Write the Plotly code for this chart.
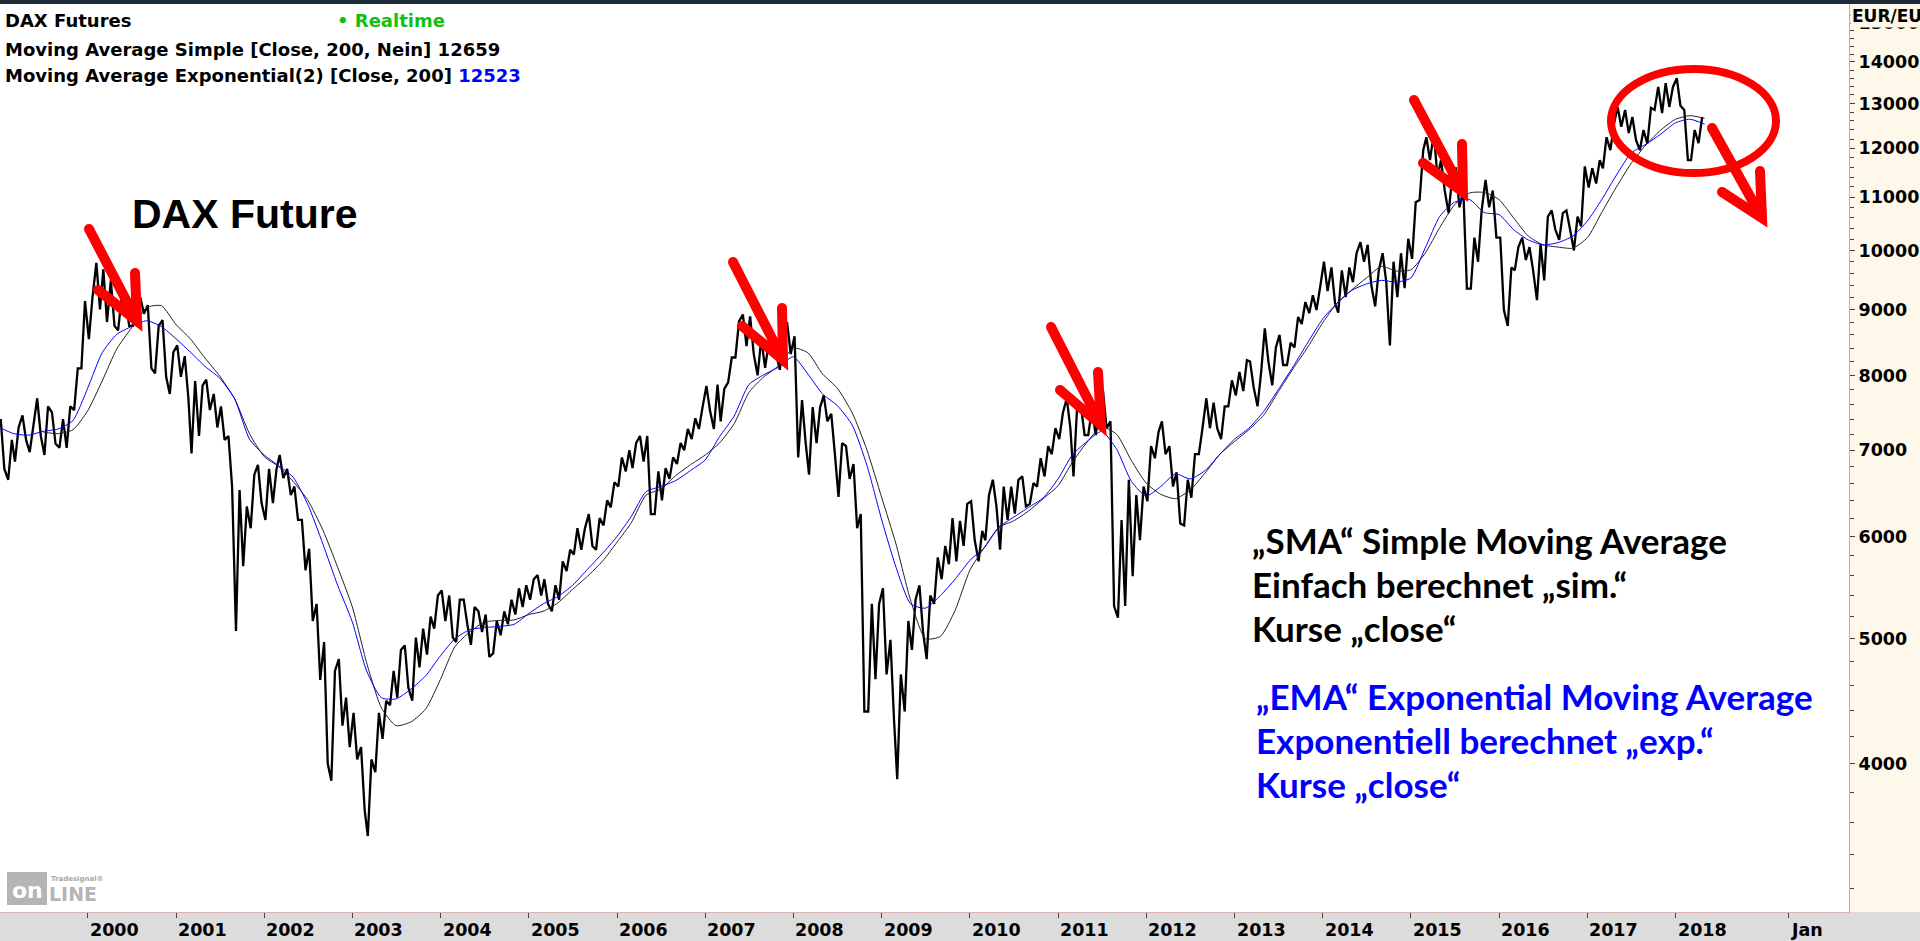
import math
import pandas as pd
import plotly.graph_objects as go

# ---------------- data ----------------
# monthly high / low of the DAX future, Jan 1999 .. Apr 2018
month_high = [
    7400, 7130, 7290, 7450, 7290, 7680, 7570, 7490, 7400, 7570, 8100, 9135,      # 1999
    9200, 9780, 9670, 9480, 9200, 9130, 9070, 9200, 9070, 8740, 8830, 8340,      # 2000
    8440, 8280, 7920, 7860, 7940, 7740, 7570, 7180, 6520, 6330, 6700, 6820,      # 2001
    6770, 6770, 6940, 6770, 6560, 6180, 5870, 5320, 4970, 4720, 4820, 4500,      # 2002
    4380, 4120, 4030, 4380, 4475, 4720, 4900, 4940, 5010, 5090, 5200, 5400,      # 2003
    5450, 5400, 5360, 5360, 5290, 5250, 5220, 5160, 5250, 5360, 5470, 5500,      # 2004
    5560, 5600, 5560, 5500, 5740, 5860, 6090, 6090, 6245, 6200, 6400, 6610,      # 2005
    6910, 7000, 7090, 7180, 7180, 6740, 6780, 6910, 7090, 7270, 7410, 7560,      # 2006
    7850, 7870, 7810, 8260, 8810, 8920, 8890, 8540, 8480, 8640, 8580, 8800,      # 2007
    8580, 7655, 7560, 7560, 7720, 7470, 7090, 7050, 6830, 6245, 5320, 5320,      # 2008
    5470, 4990, 4690, 5160, 5360, 5500, 5400, 5780, 5900, 6200, 6170, 6360,      # 2009
    6390, 6060, 6460, 6640, 6560, 6560, 6640, 6680, 6600, 6900, 7050, 7280,      # 2010
    7480, 7680, 7570, 7570, 7530, 7620, 7780, 7370, 6180, 6640, 6460, 6560,      # 2011
    7050, 7230, 7370, 7050, 6730, 6640, 6950, 7280, 7680, 7620, 7570, 7930,      # 2012
    8050, 8220, 8200, 8050, 8700, 8410, 8600, 8480, 8880, 9120, 9230, 9360,      # 2013
    9800, 9700, 9650, 9700, 9950, 10150, 10100, 9650, 9950, 9800, 9950, 10210,   # 2014
    10900, 11960, 12240, 12330, 11750, 11400, 11600, 11130, 10230, 10740, 11340, 11130,  # 2015
    10230, 9700, 10060, 10230, 10060, 10120, 10620, 10740, 10690, 10740, 10620, 11620,   # 2016
    11580, 11750, 12240, 12540, 12920, 12850, 12690, 12400, 12900, 13390, 13480, 13390,  # 2017
    13600, 12850, 12400, 12690,                                                          # 2018
]
month_low = [
    6770, 6640, 6860, 7130, 6975, 7180, 6940, 7080, 7030, 7030, 7520, 8100,
    8535, 9000, 8800, 8740, 8670, 8740, 8740, 8930, 8100, 8030, 7980, 7740,
    7980, 7680, 6960, 7180, 7520, 7290, 7130, 6560, 5070, 5690, 6090, 6370,
    6180, 6370, 6660, 6460, 6180, 5650, 5160, 4645, 4000, 3880, 4280, 4120,
    4030, 3680, 3515, 3940, 4180, 4440, 4500, 4580, 4475, 4750, 4860, 5090,
    5160, 5010, 4970, 5130, 4945, 5060, 4840, 4870, 5030, 5130, 5220, 5290,
    5360, 5400, 5320, 5250, 5360, 5640, 5810, 5860, 5900, 5860, 6120, 6320,
    6560, 6740, 6780, 6860, 6245, 6245, 6400, 6650, 6830, 7000, 7140, 7270,
    7510, 7270, 7370, 7900, 8260, 8430, 8310, 8000, 8110, 8310, 8080, 8310,
    6910, 7090, 6700, 7090, 7370, 6950, 6440, 6650, 6090, 4390, 4390, 4650,
    4690, 4320, 3890, 4390, 4900, 5060, 4820, 5320, 5560, 5710, 5740, 5900,
    5960, 5740, 5960, 6330, 5860, 6180, 6250, 6330, 6360, 6560, 6680, 6950,
    7140, 7280, 6680, 7190, 7190, 7190, 7280, 5300, 5190, 5300, 5590, 5960,
    6390, 6900, 6950, 6560, 6140, 6120, 6430, 6950, 7280, 7280, 7140, 7570,
    7720, 7780, 7830, 7570, 8200, 7860, 8150, 8150, 8410, 8770, 8940, 8990,
    9300, 9100, 8950, 9200, 9450, 9800, 9400, 9050, 9450, 8440, 9200, 9350,
    9850, 10940, 11750, 11400, 11130, 10690, 10800, 9340, 9340, 9800, 10800, 10230,
    8990, 8740, 9650, 9830, 9650, 9150, 9480, 10380, 10190, 10380, 10000, 10440,
    11190, 11270, 11580, 11960, 12470, 12330, 12180, 11960, 12100, 12850, 12780, 12920,
    12950, 11750, 11750, 12110,
]
# moving averages, read every two months from Jan 1999
ema_200 = [
    7290, 7210, 7190, 7240, 7270, 7380, 7820, 8330, 8610, 8730,
    8820, 8730, 8540, 8340, 8130, 7960, 7670, 7140, 6940, 6810,
    6670, 6350, 5920, 5500, 5150, 4720, 4500, 4490, 4570, 4680,
    4850, 5000, 5080, 5100, 5110, 5130, 5230, 5320, 5390, 5500,
    5660, 5820, 6000, 6220, 6500, 6560, 6630, 6750, 6880, 7170,
    7440, 7870, 8010, 8120, 8270, 8020, 7740, 7580, 7320, 6810,
    6180, 5680, 5320, 5280, 5400, 5560, 5750, 5880, 6100, 6210,
    6320, 6430, 6650, 6940, 7110, 7240, 7010, 6620, 6450, 6560,
    6710, 6650, 6750, 6950, 7140, 7280, 7500, 7800, 8130, 8490,
    8850, 9100, 9310, 9420, 9480, 9450, 9520, 10040, 10630, 10900,
    10950, 10700, 10660, 10380, 10190, 10100, 10140, 10260, 10540, 10950,
    11440, 11900, 12090, 12310, 12560, 12640, 12530,
]
sma_200 = [
    None, None, None, 7230, 7210, 7260, 7510, 7920, 8390, 8710,
    9030, 9060, 8760, 8540, 8250, 7990, 7670, 7210, 6920, 6800,
    6620, 6400, 6070, 5680, 5290, 4790, 4420, 4280, 4310, 4410,
    4650, 4930, 5060, 5150, 5165, 5170, 5220, 5250, 5330, 5460,
    5590, 5740, 5940, 6150, 6460, 6530, 6690, 6820, 6940, 7090,
    7340, 7760, 7980, 8140, 8400, 8330, 8020, 7820, 7480, 7000,
    6430, 5920, 5350, 5000, 5020, 5260, 5650, 5880, 6100, 6170,
    6280, 6420, 6570, 6850, 7100, 7300, 7200, 6870, 6600, 6470,
    6420, 6520, 6720, 6950, 7110, 7260, 7450, 7770, 8100, 8420,
    8790, 9100, 9320, 9520, 9720, 9640, 9660, 9950, 10420, 10850,
    11080, 11090, 10950, 10600, 10260, 10100, 10060, 10040, 10230, 10700,
    11200, 11680, 12080, 12400, 12640, 12720, 12660,
]
year_ticks = [f"{y}-01-01" for y in range(2000, 2019)] + ["2019-04-15"]
year_labels = [str(y) for y in range(2000, 2019)] + ["Jan"]
price_ticks = list(range(4000, 15001, 1000))
minor_ticks = [v for v in range(3200, 15400, 200) if v % 1000 != 0]

# ---------------- build traces ----------------
months = pd.date_range("1999-01-01", periods=len(month_high), freq="MS")
bar_x, bar_y = [], []
for i, m in enumerate(months):
    h, l = month_high[i], month_low[i]
    mid = (h + l) / 2
    nxt = (month_high[i + 1] + month_low[i + 1]) / 2 if i + 1 < len(months) else mid
    a, b = (l, h) if nxt >= mid else (h, l)
    bar_x += [m + pd.Timedelta(days=5), m + pd.Timedelta(days=20)]
    bar_y += [a, b]

ma_dates = pd.date_range("1999-01-01", periods=len(ema_200), freq="2MS")

fig = go.Figure()
fig.add_trace(go.Scatter(x=bar_x, y=bar_y, mode="lines", line=dict(color="black", width=2.3),
                         hoverinfo="skip", showlegend=False))
fig.add_trace(go.Scatter(x=ma_dates, y=sma_200, mode="lines",
                         line=dict(color="#222222", width=1, shape="spline", smoothing=0.6),
                         hoverinfo="skip", showlegend=False))
fig.add_trace(go.Scatter(x=ma_dates, y=ema_200, mode="lines",
                         line=dict(color="#0000ff", width=1, shape="spline", smoothing=0.6),
                         hoverinfo="skip", showlegend=False))

# ---------------- layout ----------------
W, H = 1920, 941
ML, MR, MT, MB = 0, 71, 4, 29
PW, PH = W - ML - MR, H - MT - MB
BOTTOM = MT + PH


def fx(p):
    return p / PW


def fy(p):
    return (BOTTOM - p) / PH


shapes = [
    dict(type="rect", xref="paper", yref="paper", x0=1, x1=W / PW, y0=-MB / PH, y1=1 + MT / PH,
         fillcolor="#fdf8ea", line=dict(width=0), layer="below"),
    dict(type="rect", xref="paper", yref="paper", x0=0, x1=W / PW, y0=-MB / PH, y1=0,
         fillcolor="#dcdcdc", line=dict(width=0), layer="below"),
    dict(type="rect", xref="paper", yref="paper", x0=0, x1=W / PW, y0=1, y1=1 + MT / PH,
         fillcolor="#1d2b3a", line=dict(width=0), layer="below"),
]

RED = "#ff0000"
arrows = [
    ((89, 229), (137, 321), (98, 290), (135, 273)),
    ((733, 262), (783, 360), (742, 326), (782, 308)),
    ((1051, 327), (1101, 425), (1060, 390), (1098, 372)),
    ((1414, 100), (1463, 192), (1423, 163), (1462, 144)),
    ((1712, 128), (1762, 218), (1722, 192), (1760, 171)),
]
AW = 10
for tail, tip, wl, wr in arrows:
    path = (f"M {fx(tail[0])},{fy(tail[1])} L {fx(tip[0])},{fy(tip[1])} "
            f"M {fx(wl[0])},{fy(wl[1])} L {fx(tip[0])},{fy(tip[1])} L {fx(wr[0])},{fy(wr[1])}")
    shapes.append(dict(type="path", xref="paper", yref="paper", path=path,
                       line=dict(color=RED, width=AW)))
    for cx, cy in (tail, wl, wr):
        r = AW / 2
        shapes.append(dict(type="circle", xref="paper", yref="paper",
                           x0=fx(cx - r), x1=fx(cx + r), y0=fy(cy + r), y1=fy(cy - r),
                           fillcolor=RED, line=dict(width=0)))
shapes.append(dict(type="circle", xref="paper", yref="paper",
                   x0=fx(1611), x1=fx(1776), y0=fy(173), y1=fy(69),
                   line=dict(color=RED, width=8)))
# logo box
shapes.append(dict(type="rect", xref="paper", yref="paper",
                   x0=fx(7), x1=fx(47), y0=fy(905), y1=fy(872),
                   fillcolor="#b5b5b5", line=dict(width=0)))

HDR = dict(family="DejaVu Sans", size=18, color="black", weight="bold")
annotations = [
    dict(text="DAX Futures", x=fx(3), y=fy(21), font=HDR),
    dict(text="\u2022 Realtime", x=fx(335), y=fy(21), font=dict(HDR, color="#12c012")),
    dict(text="Moving Average Simple [Close, 200, Nein] 12659", x=fx(3), y=fy(49), font=HDR),
    dict(text="Moving Average Exponential(2) [Close, 200] <span style='color:#0000ff'>12523</span>",
         x=fx(3), y=fy(76), font=HDR),
    dict(text="DAX Future", x=fx(130), y=fy(214),
         font=dict(family="Liberation Sans", size=41, color="black", weight="bold")),
    dict(text="EUR/EUR", x=fx(1850), y=fy(4), yanchor="top", bgcolor="#fdf8ea",
         font=dict(HDR, size=17)),
    dict(text="on", x=fx(27), y=fy(890), xanchor="center",
         font=dict(family="DejaVu Sans", size=22, color="white", weight="bold")),
    dict(text="LINE", x=fx(47), y=fy(894),
         font=dict(family="DejaVu Sans", size=19, color="#b5b5b5", weight="bold")),
    dict(text="Tradesignal\u00ae", x=fx(49), y=fy(879),
         font=dict(family="DejaVu Sans", size=7, color="#a8a8a8", weight="bold")),
]
for a in annotations:
    a.setdefault("xanchor", "left")
    a.setdefault("yanchor", "middle")
    a.update(xref="paper", yref="paper", showarrow=False)

TXT = dict(family="Lato", size=35, weight="bold")
text_lines = [
    ("\u201eSMA\u201c Simple Moving Average", 540, "black", 1250),
    ("Einfach berechnet \u201esim.\u201c", 584, "black", 1250),
    ("Kurse \u201eclose\u201c", 628, "black", 1250),
    ("\u201eEMA\u201c Exponential Moving Average", 696, "#0000ff", 1254),
    ("Exponentiell berechnet \u201eexp.\u201c", 740, "#0000ff", 1254),
    ("Kurse \u201eclose\u201c", 784, "#0000ff", 1254),
]
for t, yy, col, xx in text_lines:
    annotations.append(dict(text=t, x=fx(xx), y=fy(yy), xref="paper", yref="paper",
                            xanchor="left", yanchor="middle", showarrow=False,
                            font=dict(TXT, color=col)))

TICKF = dict(family="DejaVu Sans", size=17.5, color="black", weight="bold")
for d, lab in zip(year_ticks, year_labels):
    annotations.append(dict(text=lab, x=d, xref="x", y=fy(930), yref="paper",
                            xanchor="left", yanchor="middle", showarrow=False, font=TICKF))

fig.update_layout(
    width=W, height=H, autosize=False,
    margin=dict(l=ML, r=MR, t=MT, b=MB, pad=0),
    paper_bgcolor="white", plot_bgcolor="white",
    showlegend=False,
    shapes=shapes, annotations=annotations,
    xaxis=dict(type="date", range=["1999-01-03", "2019-12-20"],
               tickmode="array", tickvals=year_ticks, showticklabels=False,
               ticks="outside", ticklen=5, tickcolor="#444444",
               showline=True, linecolor="#d9b4b4", linewidth=1,
               showgrid=False, zeroline=False, fixedrange=True),
    yaxis=dict(type="log", range=[math.log10(3069), math.log10(15527)], side="right",
               tickmode="array", tickvals=price_ticks, ticktext=[str(v) for v in price_ticks],
               ticks="outside", ticklen=5, tickcolor="#444444", tickfont=TICKF,
               minor=dict(tickmode="array", tickvals=minor_ticks, ticks="outside",
                          ticklen=4, tickcolor="#444444", showgrid=False),
               showline=True, linecolor="#c4aaaa", linewidth=1,
               showgrid=False, zeroline=False, fixedrange=True),
)

fig.write_html("out.html", config={"displayModeBar": False},
               post_script="document.body.style.margin='0';document.body.style.overflow='hidden';")
